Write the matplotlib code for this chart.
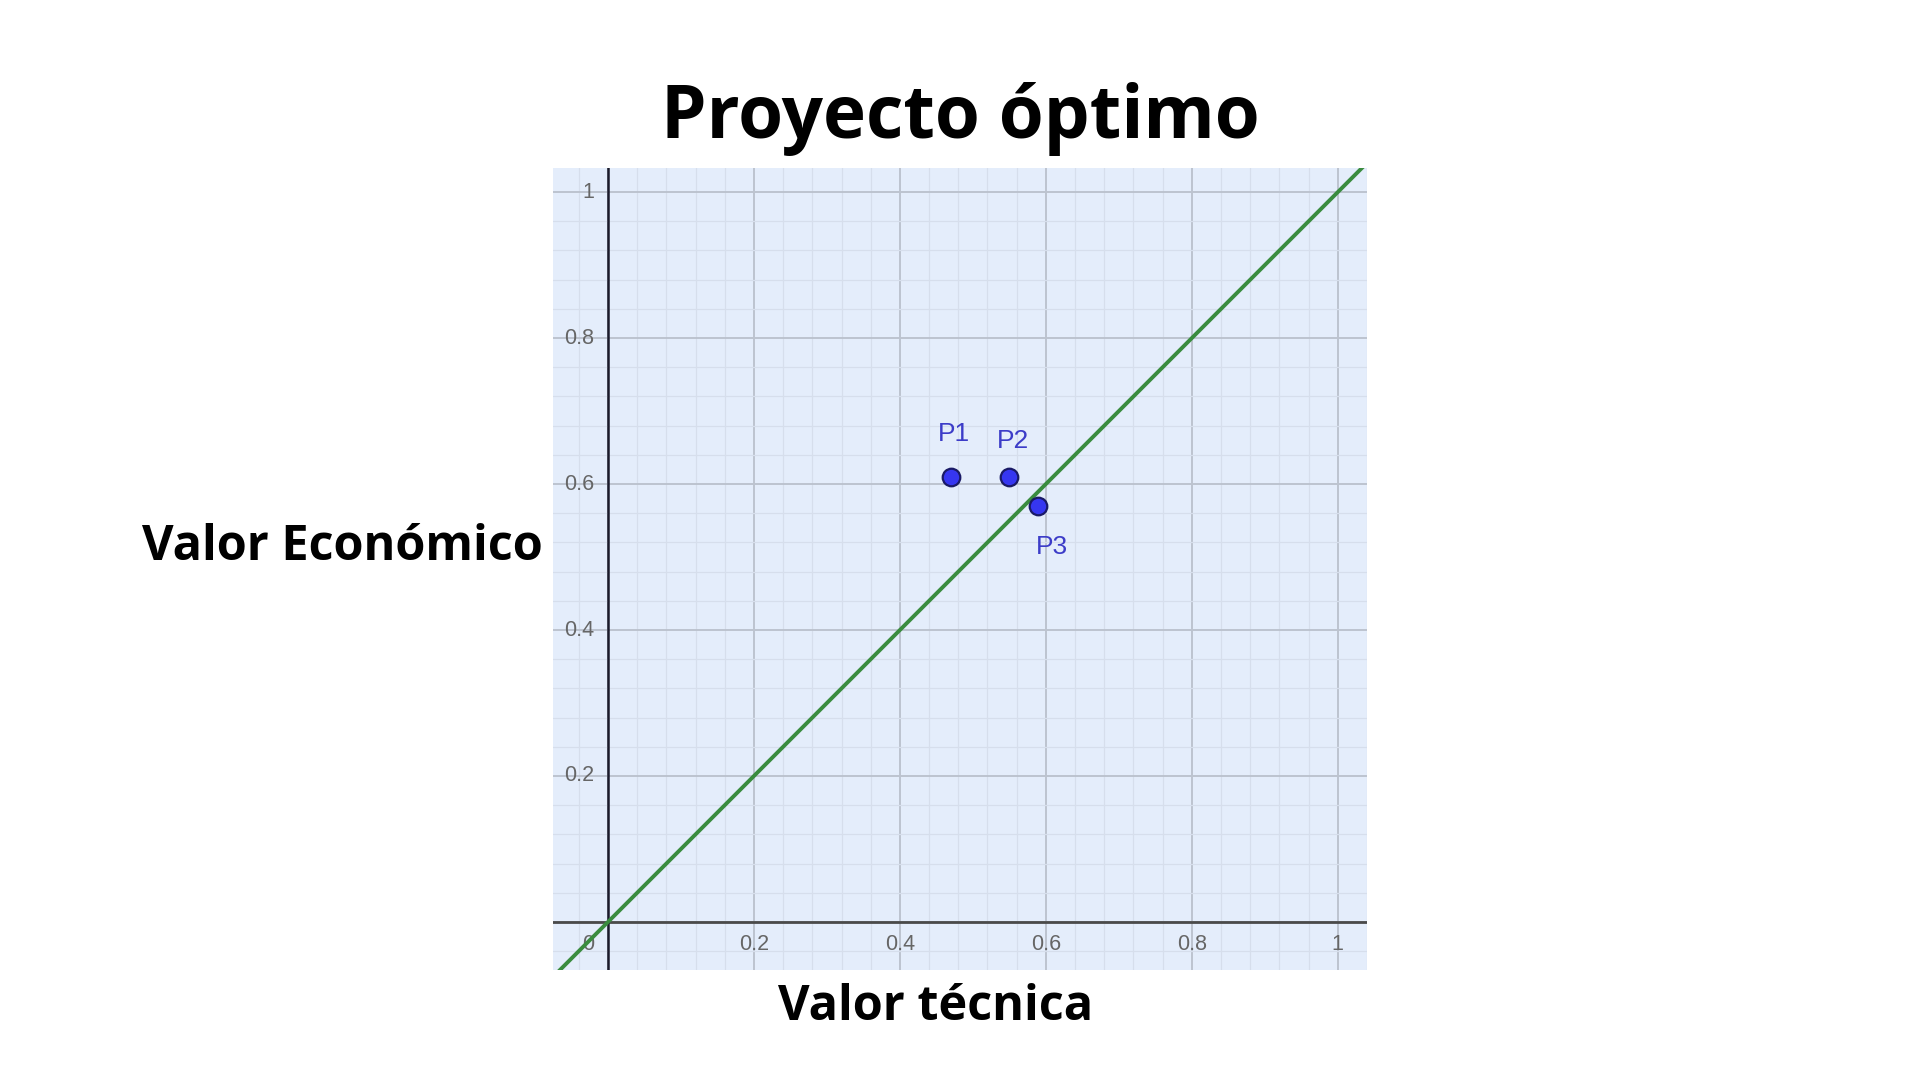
import matplotlib
matplotlib.use("Agg")
import matplotlib.pyplot as plt
import numpy as np
from matplotlib.ticker import MultipleLocator

# ---- data ----
point_names = ["P1", "P2", "P3"]
point_x = [0.47, 0.549, 0.589]
point_y = [0.61, 0.61, 0.57]
x_tick_values = [0.2, 0.4, 0.6, 0.8, 1.0]
x_tick_labels = ["0.2", "0.4", "0.6", "0.8", "1"]
y_tick_values = [0.2, 0.4, 0.6, 0.8, 1.0]
y_tick_labels = ["0.2", "0.4", "0.6", "0.8", "1"]
line_intercept = 0.0
line_slope = 1.0

title = "Proyecto óptimo"
xlabel = "Valor técnica"
ylabel = "Valor Económico"

# ---- figure ----
fig = plt.figure(figsize=(19.2, 10.8), dpi=100)
fig.patch.set_facecolor("white")

ax = fig.add_axes([553/1920, 1 - 970/1080, (1367 - 553)/1920, (970 - 168)/1080])
ax.set_facecolor("#e4edfb")
ax.set_xlim(-0.0753, 1.040)
ax.set_ylim(-0.0658, 1.033)

for s in ax.spines.values():
    s.set_visible(False)

ax.xaxis.set_major_locator(MultipleLocator(0.2))
ax.yaxis.set_major_locator(MultipleLocator(0.2))
ax.xaxis.set_minor_locator(MultipleLocator(0.04))
ax.yaxis.set_minor_locator(MultipleLocator(0.04))
ax.tick_params(which="both", length=0, labelbottom=False, labelleft=False)
ax.grid(which="minor", color="#d6deec", linewidth=0.9)
ax.grid(which="major", color="#bcc3cf", linewidth=1.4)
ax.set_axisbelow(True)

# axes lines
ax.axhline(0, color="#4a4a4a", linewidth=2.0, zorder=2)
ax.axvline(0, color="#1a1a2a", linewidth=1.8, zorder=2)

# tick labels (GeoGebra style)
tick_font = dict(family="Liberation Sans", fontsize=15.5, color="#666666")
for v, lab in zip(x_tick_values, x_tick_labels):
    ax.annotate(lab, (v, 0), xytext=(0, -23), textcoords="offset pixels",
                ha="center", va="center", **tick_font)
for v, lab in zip(y_tick_values, y_tick_labels):
    ax.annotate(lab, (0, v), xytext=(-14, 0), textcoords="offset pixels",
                ha="right", va="center", **tick_font)
ax.annotate("0", (0, 0), xytext=(-14, -23), textcoords="offset pixels",
            ha="right", va="center", **tick_font)

# line y = x
ax.axline((0, line_intercept), slope=line_slope, color="#3a8c3f", linewidth=2.8, zorder=3)

# points
ax.scatter(point_x, point_y, s=160, color="#3636f0", edgecolor="#1a1a66",
           linewidth=1.6, zorder=4)
label_offsets = {"P1": (3, 43), "P2": (4, 36), "P3": (14, -41)}
for name, x, y in zip(point_names, point_x, point_y):
    dx, dy = label_offsets[name]
    ax.annotate(name, (x, y), xytext=(dx, dy), textcoords="offset pixels",
                ha="center", va="center", family="Liberation Sans",
                fontsize=19, color="#3c3cc8", zorder=5)

# texts
fig.text(960/1920, 1 - 119/1080, title, ha="center", va="center",
         family="Open Sans", fontweight="bold", fontsize=52.4, color="black")
fig.text(342/1920, 1 - 547/1080, ylabel, ha="center", va="center",
         family="Open Sans", fontweight="bold", fontsize=35, color="black")
fig.text(936/1920, 1 - 1008/1080, xlabel, ha="center", va="center",
         family="Open Sans", fontweight="bold", fontsize=35, color="black")

fig.savefig("out.png", dpi=100, facecolor="white")
